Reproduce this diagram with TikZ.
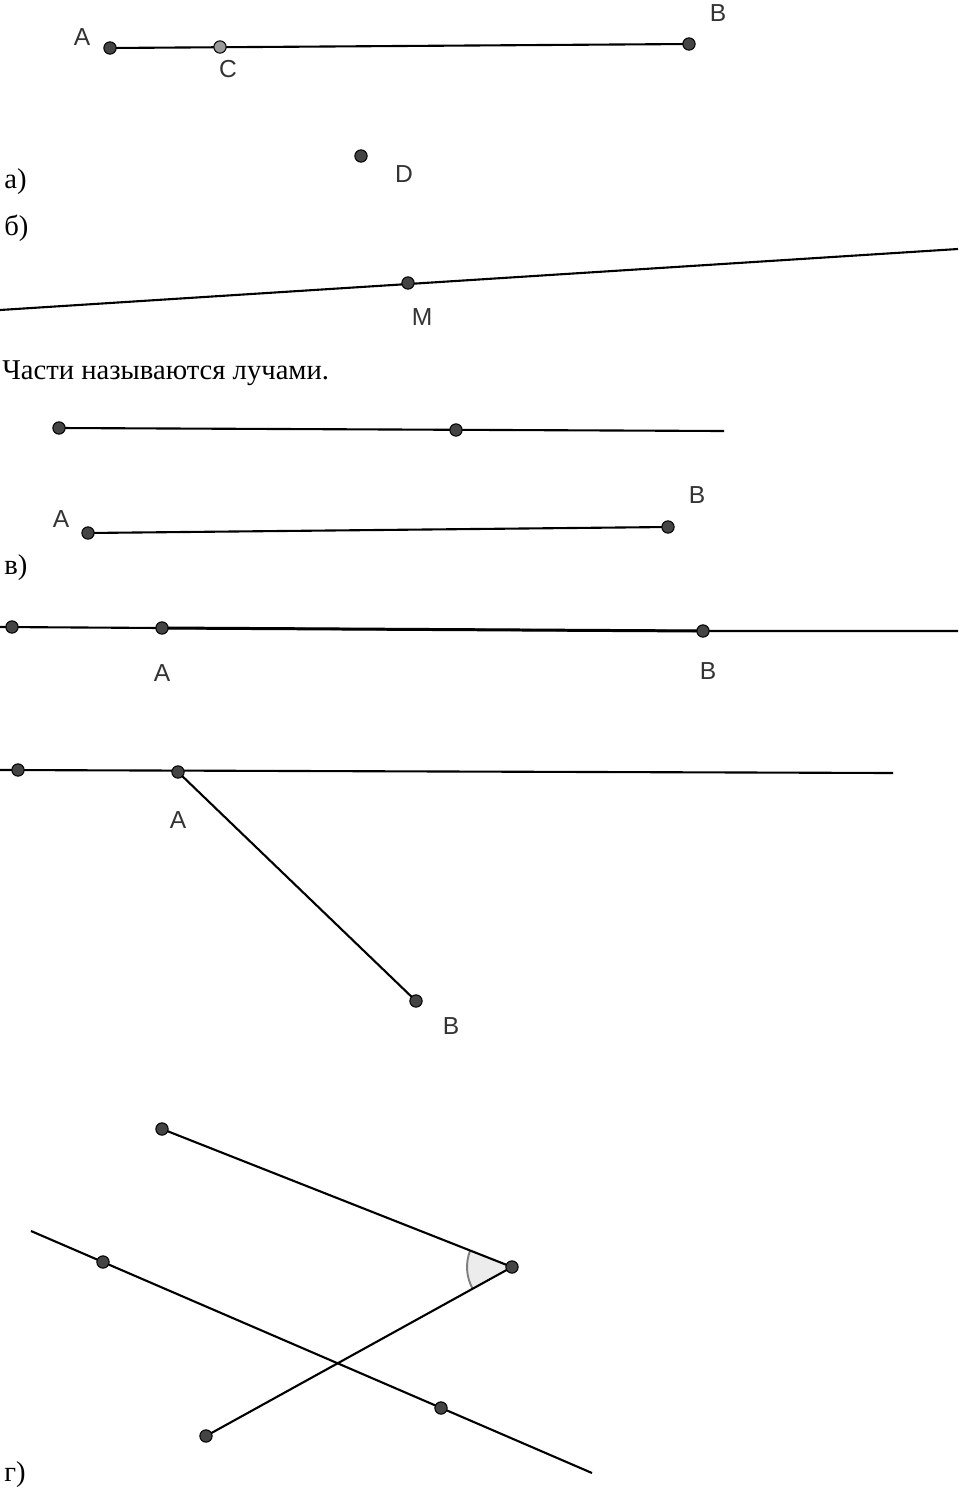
\documentclass[tikz,border=0pt]{standalone}
\usepackage{fontspec}
\setmainfont{Liberation Serif}
\newfontfamily\lblfont{Liberation Sans}
\usetikzlibrary{angles}
\definecolor{ptfill}{HTML}{444444}
\definecolor{lblgray}{HTML}{333333}
\tikzset{
	ln/.style={line width=1.2pt},
	pt/.style={circle, draw=black, line width=0.6pt, fill=ptfill, inner sep=0pt, minimum size=7pt},
	ptlight/.style={pt, fill=gray!80},
	lbl/.style={font=\lblfont\fontsize{14}{16}\selectfont, text=lblgray, inner sep=0pt},
	part/.style={font=\fontsize{16.3}{19}\selectfont, anchor=base west, inner sep=0pt}
}
\begin{document}
\begin{tikzpicture}[x=0.02cm, y=-0.02cm]
		\useasboundingbox (0,0) rectangle (960,1491);

		% a) segment AB, points C and D
		\coordinate (aA) at (110,48);
		\coordinate (aC) at (220,47);
		\coordinate (aB) at (689,44);
		\coordinate (aD) at (361,156);
		\draw[ln] (aA) -- (aB);
		\node[pt] (paA) at (aA) {};
		\node[ptlight] (paC) at (aC) {};
		\node[pt] (paB) at (aB) {};
		\node[pt] (paD) at (aD) {};
		\node[lbl] at (82,37) {A};
		\node[lbl] at (228,69) {C};
		\node[lbl] at (718,13) {B};
		\node[lbl] at (404,174) {D};
		\node[part] (la) at (4,188) {а)};

		% b) line through M
		\node[part] (lb) at (4,235) {б)};
		\coordinate (bL) at (0,310);
		\coordinate (bR) at (958,249);
		\coordinate (bM) at (408,283);
		\draw[ln] (bL) -- (bR);
		\node[pt] (pbM) at (bM) {};
		\node[lbl] at (422,317) {M};
		\node[part] (txt) at (2,379) {Части называются лучами.};

		% rays
		\coordinate (r1) at (59,428);
		\coordinate (r2) at (456,430);
		\coordinate (r3) at (724,431);
		\draw[ln] (r1) -- (r3);
		\node[pt] (pr1) at (r1) {};
		\node[pt] (pr2) at (r2) {};

		% segment AB
		\coordinate (sA) at (88,533);
		\coordinate (sB) at (668,527);
		\draw[ln] (sA) -- (sB);
		\node[pt] (psA) at (sA) {};
		\node[pt] (psB) at (sB) {};
		\node[lbl] at (61,519) {A};
		\node[lbl] at (697,495) {B};

		% c)
		\node[part] (lc) at (4,574) {в)};
		\coordinate (cL) at (0,627);
		\coordinate (cO) at (12,627);
		\coordinate (cA) at (162,628);
		\coordinate (cB) at (703,631);
		\coordinate (cR) at (958,631);
		\draw[ln] (cL) -- (cA) -- (cB) -- (cR);
		\draw[line width=1.7pt] (cA) -- (cB);
		\node[pt] (pcO) at (cO) {};
		\node[pt] (pcA) at (cA) {};
		\node[pt] (pcB) at (cB) {};
		\node[lbl] at (162,673) {A};
		\node[lbl] at (708,671) {B};

		\coordinate (dL) at (0,770);
		\coordinate (dO) at (18,770);
		\coordinate (dA) at (178,772);
		\coordinate (dR) at (893,773);
		\coordinate (dB) at (416,1001);
		\draw[ln] (dL) -- (dR);
		\draw[ln] (dA) -- (dB);
		\node[pt] (pdO) at (dO) {};
		\node[pt] (pdA) at (dA) {};
		\node[pt] (pdB) at (dB) {};
		\node[lbl] at (178,820) {A};
		\node[lbl] at (451,1026) {B};

		% d) angle and line
		\coordinate (gP) at (162,1129);
		\coordinate (gV) at (512,1267);
		\coordinate (gQ) at (206,1436);
		\coordinate (gL) at (31,1231);
		\coordinate (gM) at (103,1262);
		\coordinate (gN) at (441,1408);
		\coordinate (gR) at (592,1473);
		\pic[draw=gray, line width=1.1pt, fill=gray!15, angle radius=0.9cm] {angle = gP--gV--gQ};
		\draw[ln] (gP) -- (gV) -- (gQ);
		\draw[ln] (gL) -- (gR);
		\node[pt] (pgP) at (gP) {};
		\node[pt] (pgV) at (gV) {};
		\node[pt] (pgQ) at (gQ) {};
		\node[pt] (pgM) at (gM) {};
		\node[pt] (pgN) at (gN) {};
		\node[part] (ld) at (4,1481) {г)};
	\end{tikzpicture}
\end{document}
